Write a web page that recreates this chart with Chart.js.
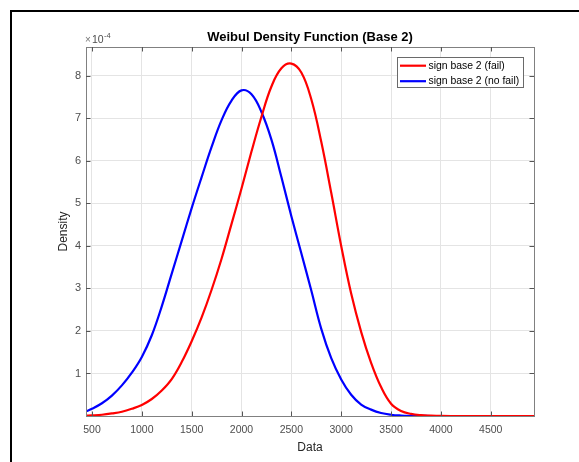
<!DOCTYPE html>
<html>
<head>
<meta charset="utf-8">
<script src="https://cdn.jsdelivr.net/npm/chart.js@4.4.0/dist/chart.umd.min.js"></script>
<style>
  html, body { margin: 0; padding: 0; background: #fff; }
  #wrap { position: relative; width: 579px; height: 462px; overflow: hidden; }
  #frame { position: absolute; left: 10px; top: 10px; width: 569px; height: 452px;
           border-left: 2px solid #000; border-top: 2px solid #000; box-sizing: border-box; }
  canvas { position: absolute; left: 0; top: 0; }
</style>
</head>
<body>
<div id="wrap"><div id="frame"></div><canvas id="grafico" width="579" height="462"></canvas></div>
<script>
// valores (densidad en unidades de 1e-4)
const datos = [440, 500, 600, 700, 800, 900, 1000, 1100, 1200, 1300, 1400, 1500, 1600, 1700, 1800, 1900,
  2000, 2100, 2200, 2300, 2400, 2500, 2600, 2700, 2800, 2900, 3000, 3100, 3200, 3300, 3400, 3500,
  3600, 3700, 3800, 3900, 4000, 4100, 4200, 4300, 4400, 4500, 4600, 4700, 4800, 4900, 4934];

const densidadFail = [0.01, 0.015, 0.03, 0.06, 0.10, 0.17, 0.26, 0.40, 0.60, 0.87, 1.27, 1.76, 2.32, 2.97,
  3.70, 4.52, 5.35, 6.22, 7.04, 7.75, 8.18, 8.29, 8.08, 7.45, 6.45, 5.25, 4.00, 2.88, 1.98, 1.25,
  0.68, 0.29, 0.12, 0.05, 0.02, 0.01, 0.003, 0, 0, 0, 0, 0, 0, 0, 0, 0, 0];

const densidadNoFail = [0.11, 0.17, 0.30, 0.48, 0.72, 1.02, 1.39, 1.90, 2.58, 3.35, 4.12, 4.89, 5.62, 6.33,
  6.96, 7.42, 7.66, 7.57, 7.15, 6.50, 5.62, 4.70, 3.83, 2.95, 2.05, 1.36, 0.86, 0.50, 0.27, 0.15,
  0.07, 0.03, 0.012, 0.005, 0.002, 0, 0, 0, 0, 0, 0, 0, 0, 0, 0, 0, 0];

const ticksX = [500, 1000, 1500, 2000, 2500, 3000, 3500, 4000, 4500];
const ticksY = [1, 2, 3, 4, 5, 6, 7, 8];

const titulo = "Weibul Density Function (Base 2)";
const etiquetas = ["sign base 2 (fail)", "sign base 2 (no fail)"];

const fuente = "'Liberation Sans', Arial, Helvetica, sans-serif";

const decoracion = {
  id: "decoracion",
  afterDraw(chart) {
    const ctx = chart.ctx;
    const a = chart.chartArea;
    const sx = chart.scales.x, sy = chart.scales.y;
    ctx.save();
    // caja de ejes
    ctx.strokeStyle = "#808080";
    ctx.lineWidth = 1;
    ctx.strokeRect(Math.round(a.left) + 0.5, Math.round(a.top) + 0.5,
      Math.round(a.right - a.left), Math.round(a.bottom - a.top));
    // marcas hacia adentro
    ctx.strokeStyle = "#555";
    ctx.beginPath();
    ticksX.forEach(v => {
      const px = Math.round(sx.getPixelForValue(v)) + 0.5;
      ctx.moveTo(px, a.bottom); ctx.lineTo(px, a.bottom - 4.5);
      ctx.moveTo(px, a.top); ctx.lineTo(px, a.top + 4.5);
    });
    ticksY.forEach(v => {
      const py = Math.round(sy.getPixelForValue(v)) + 0.5;
      ctx.moveTo(a.left, py); ctx.lineTo(a.left + 4.5, py);
      ctx.moveTo(a.right, py); ctx.lineTo(a.right - 4.5, py);
    });
    ctx.stroke();

    // titulo
    ctx.fillStyle = "#000";
    ctx.font = "bold 13px " + fuente;
    ctx.textAlign = "center";
    ctx.textBaseline = "middle";
    ctx.fillText(titulo, (a.left + a.right) / 2, 37);

    // exponente
    ctx.textAlign = "left";
    ctx.textBaseline = "alphabetic";
    ctx.fillStyle = "#777";
    ctx.font = "10px " + fuente;
    ctx.fillText("\u00d7", a.left - 1, 43);
    ctx.fillStyle = "#4d4d4d";
    ctx.font = "10.5px " + fuente;
    ctx.fillText("10", a.left + 6, 43);
    ctx.font = "7.5px " + fuente;
    ctx.fillText("-4", a.left + 18, 38);

    // titulos de ejes
    ctx.fillStyle = "#262626";
    ctx.font = "12px " + fuente;
    ctx.textAlign = "center";
    ctx.textBaseline = "middle";
    ctx.fillText("Data", (a.left + a.right) / 2, 448);
    ctx.save();
    ctx.translate(64, (a.top + a.bottom) / 2);
    ctx.rotate(-Math.PI / 2);
    ctx.fillText("Density", 0, 0);
    ctx.restore();

    // leyenda
    const lx = 397.5, ly = 57.5, lw = 126, lh = 30;
    ctx.fillStyle = "#fff";
    ctx.fillRect(lx, ly, lw, lh);
    ctx.strokeStyle = "#6a6a6a";
    ctx.lineWidth = 1;
    ctx.strokeRect(lx, ly, lw, lh);
    const colores = [chart.data.datasets[0].borderColor, chart.data.datasets[1].borderColor];
    ctx.font = "10.4px " + fuente;
    ctx.textAlign = "left";
    ctx.textBaseline = "middle";
    [65.7, 81.2].forEach((yy, i) => {
      ctx.strokeStyle = colores[i];
      ctx.lineWidth = 2.2;
      ctx.beginPath();
      ctx.moveTo(400, yy); ctx.lineTo(426, yy);
      ctx.stroke();
      ctx.fillStyle = "#000";
      ctx.fillText(etiquetas[i], 428.5, yy);
    });
    ctx.restore();
  }
};

const puntos = serie => datos.map((x, i) => ({ x: x, y: serie[i] }));

const config = {
  type: "line",
  data: {
    datasets: [
      { label: etiquetas[0], data: puntos(densidadFail), borderColor: "#ff0000", borderWidth: 2.2,
        pointRadius: 0, fill: false, tension: 0.4, borderJoinStyle: "round", borderCapStyle: "round" },
      { label: etiquetas[1], data: puntos(densidadNoFail), borderColor: "#0000ff", borderWidth: 2.2,
        pointRadius: 0, fill: false, tension: 0.4, borderJoinStyle: "round", borderCapStyle: "round" }
    ]
  },
  options: {
    responsive: false,
    animation: false,
    devicePixelRatio: 1,
    layout: { padding: { left: 0, top: 47, right: 45, bottom: 0 } },
    plugins: { legend: { display: false }, title: { display: false }, tooltip: { enabled: false } },
    scales: {
      x: {
        type: "linear", min: 440, max: 4934,
        afterBuildTicks: s => { s.ticks = ticksX.map(v => ({ value: v })); },
        afterFit: s => { s.height = 46; },
        grid: { color: "#e4e4e4", drawTicks: false },
        border: { display: false },
        ticks: { padding: 8, color: "#4d4d4d", font: { family: fuente, size: 10.5 }, maxRotation: 0,
                 callback: v => String(v) }
      },
      y: {
        type: "linear", min: 0, max: 8.68,
        afterBuildTicks: s => { s.ticks = ticksY.map(v => ({ value: v })); },
        afterFit: s => { s.width = 86; },
        grid: { color: "#e4e4e4", drawTicks: false },
        border: { display: false },
        ticks: { padding: 5, color: "#4d4d4d", font: { family: fuente, size: 11 }, callback: v => String(v) }
      }
    }
  },
  plugins: [decoracion]
};

const myChart = new Chart(document.getElementById("grafico"), config);
</script>
</body>
</html>
